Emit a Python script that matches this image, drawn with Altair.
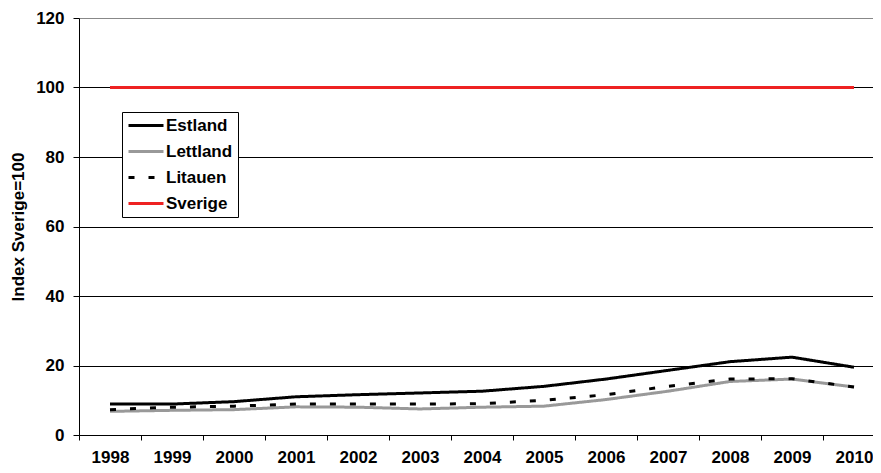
import altair as alt
import pandas as pd

years = [1998, 1999, 2000, 2001, 2002, 2003, 2004,
         2005, 2006, 2007, 2008, 2009, 2010]
estland = [8.9, 8.9, 9.6, 11.0, 11.6, 12.1, 12.6, 14.0, 16.1, 18.6, 21.1, 22.4, 19.5]
lettland = [6.8, 7.1, 7.3, 8.1, 8.0, 7.5, 8.0, 8.3, 10.2, 12.6, 15.4, 16.1, 13.8]
litauen = [7.3, 8.0, 8.3, 8.9, 8.9, 8.9, 9.0, 10.0, 11.6, 14.0, 16.1, 16.2, 13.8]
sverige = [100, 100, 100, 100, 100, 100, 100, 100, 100, 100, 100, 100, 100]

series_names = ["Estland", "Lettland", "Litauen", "Sverige"]
series_values = [estland, lettland, litauen, sverige]
series_colors = ["#000000", "#999999", "#000000", "#ee2222"]
series_dash = [[1, 0], [1, 0], [6, 14], [1, 0]]

rows = []
for name, vals in zip(series_names, series_values):
    for y, v in zip(years, vals):
        rows.append({"year": y, "land": name, "value": v})
df = pd.DataFrame(rows)

FONT = "Liberation Sans"
PAD_L, PAD_T, PAD_R, PAD_B = 71, 10, 0, 30
PLOT_W = 865 - PAD_L - PAD_R
PLOT_H = 457 - PAD_T - PAD_B
STEP = 62  # pixels per category band
x_domain = [1997.5, 1997.5 + PLOT_W / STEP]
tick_values = [y - 0.5 for y in years]  # band boundaries

legend = alt.Legend(
    title=None,
    orient="none",
    legendX=43,
    legendY=94,
    padding=5,
    strokeColor="black",
    fillColor="white",
    cornerRadius=0,
    symbolType="M-1,0H4",
    symbolSize=196,
    symbolStrokeWidth=3,
    labelFont=FONT,
    labelFontSize=17,
    labelFontWeight="bold",
    labelColor="black",
    labelOffset=22,
    rowPadding=8,
)

chart = alt.Chart(df).mark_line(strokeWidth=3).encode(
    x=alt.X(
        "year:Q",
        title=None,
        scale=alt.Scale(domain=x_domain, nice=False, zero=False),
        axis=alt.Axis(
            values=tick_values,
            labelExpr="format(datum.value + 0.5, 'd')",
            labelAngle=0,
            labelFont=FONT,
            labelFontSize=17,
            labelFontWeight="bold",
            labelColor="black",
            labelPadding=9,
            labelOffset=STEP / 2,
            labelFlush=False,
            labelOverlap=False,
            tickSize=5,
            tickColor="black",
            domainColor="black",
            grid=False,
        ),
    ),
    y=alt.Y(
        "value:Q",
        title="Index Sverige=100",
        scale=alt.Scale(domain=[0, 120], nice=False),
        axis=alt.Axis(
            values=[0, 20, 40, 60, 80, 100, 120],
            labelFont=FONT,
            labelFontSize=17,
            labelFontWeight="bold",
            labelColor="black",
            labelPadding=9,
            tickSize=6,
            tickColor="black",
            domainColor="black",
            grid=True,
            gridColor={"condition": {"test": "datum.value === 120", "value": "#888888"}, "value": "#000000"},
            gridWidth=1,
            titleFont=FONT,
            titleFontSize=17,
            titleFontWeight="bold",
            titleColor="black",
            titlePadding=8,
        ),
    ),
    color=alt.Color(
        "land:N",
        scale=alt.Scale(domain=series_names, range=series_colors),
        legend=legend,
    ),
    strokeDash=alt.StrokeDash(
        "land:N",
        scale=alt.Scale(domain=series_names, range=series_dash),
        legend=legend,
    ),
).properties(
    width=PLOT_W,
    height=PLOT_H,
    autosize=alt.AutoSizeParams(type="none"),
    padding={"left": PAD_L, "top": PAD_T, "right": PAD_R, "bottom": PAD_B},
    background="white",
).configure_view(stroke=None)

chart.save("out.html", embed_options={"renderer": "svg", "actions": False})
